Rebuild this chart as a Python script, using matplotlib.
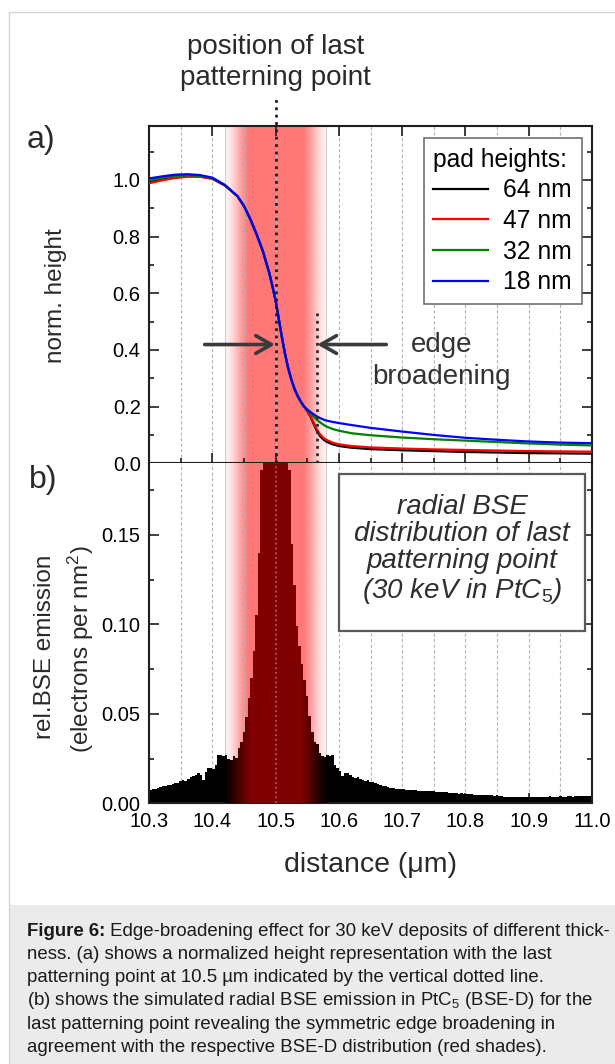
import numpy as np
import matplotlib
matplotlib.use('Agg')
import matplotlib.pyplot as plt
from matplotlib.patches import Rectangle
from matplotlib.lines import Line2D
from matplotlib.ticker import MultipleLocator, FormatStrFormatter

plt.rcParams['font.family'] = ['Liberation Sans', 'DejaVu Sans']
plt.rcParams['mathtext.fontset'] = 'custom'
plt.rcParams['mathtext.rm'] = 'Liberation Sans'
plt.rcParams['mathtext.it'] = 'Liberation Sans:italic'
plt.rcParams['mathtext.bf'] = 'Liberation Sans:bold'

# ---- (a) normalised height profiles -------------------------------------
dist = [10.30, 10.32, 10.34, 10.36, 10.38, 10.40, 10.42, 10.44, 10.45, 10.46,
        10.47, 10.48, 10.49, 10.495, 10.50, 10.505, 10.51, 10.515, 10.52, 10.525,
        10.53, 10.535, 10.54, 10.545, 10.55, 10.555, 10.56, 10.565, 10.57, 10.575,
        10.58, 10.59, 10.60, 10.62, 10.65, 10.70, 10.75, 10.80, 10.85, 10.90,
        10.95, 11.00]
h_common = [0.942, 0.908, 0.862, 0.808, 0.748, 0.672, 0.625, 0.575, 0.510,
            0.445, 0.385, 0.335, 0.295, 0.262, 0.237, 0.217, 0.200]
h64 = ([0.992, 1.002, 1.009, 1.013, 1.012, 1.004, 0.980] + h_common +
       [0.184, 0.165, 0.140, 0.115, 0.097, 0.085, 0.077, 0.067, 0.061, 0.055,
        0.050, 0.046, 0.043, 0.040, 0.038, 0.036, 0.035, 0.034])
h47 = ([0.988, 0.998, 1.006, 1.011, 1.011, 1.004, 0.980] + h_common +
       [0.185, 0.167, 0.145, 0.121, 0.103, 0.091, 0.083, 0.073, 0.067, 0.061,
        0.056, 0.052, 0.049, 0.047, 0.045, 0.043, 0.042, 0.041])
h32 = ([0.998, 1.007, 1.013, 1.016, 1.014, 1.006, 0.981] + h_common +
       [0.188, 0.176, 0.165, 0.154, 0.145, 0.137, 0.130, 0.121, 0.115, 0.106,
        0.099, 0.091, 0.085, 0.080, 0.075, 0.070, 0.066, 0.063])
h18 = ([1.005, 1.012, 1.018, 1.020, 1.017, 1.008, 0.982] + h_common +
       [0.190, 0.181, 0.173, 0.166, 0.160, 0.155, 0.151, 0.146, 0.142, 0.135,
        0.125, 0.112, 0.100, 0.090, 0.083, 0.077, 0.073, 0.071])
pad_labels = ["64 nm", "47 nm", "32 nm", "18 nm"]
pad_colors = ["black", "red", "#008000", "blue"]

# ---- (b) radial BSE emission histogram (bins of 4 nm from 10.3 um) ---------
bse_start, bse_stop = 10.3, 11.0
bse_counts = [
    0.0072, 0.0078, 0.0082, 0.0086, 0.0092, 0.0095, 0.0098, 0.0102, 0.0100, 0.0108,
    0.0115, 0.0112, 0.0125, 0.0130, 0.0122, 0.0138, 0.0145, 0.0150, 0.0158, 0.0168,
    0.0160, 0.0130, 0.0175, 0.0198, 0.0195, 0.0190, 0.0215, 0.0270, 0.0272, 0.0262,
    0.0268, 0.0248, 0.0240, 0.0262, 0.0255, 0.0310, 0.0340, 0.0400, 0.0480, 0.0590,
    0.0700, 0.0850, 0.1050, 0.1400, 0.1860, 0.2400, 0.3100, 0.3800, 0.4300, 0.4600,
    0.4500, 0.4200, 0.3700, 0.3000, 0.2300, 0.1860, 0.1450, 0.1220, 0.0990, 0.0880,
    0.0780, 0.0690, 0.0600, 0.0490, 0.0400, 0.0340, 0.0330, 0.0280, 0.0265, 0.0258,
    0.0272, 0.0262, 0.0270, 0.0212, 0.0200, 0.0180, 0.0152, 0.0172, 0.0168, 0.0160,
    0.0145, 0.0140, 0.0148, 0.0136, 0.0130, 0.0125, 0.0128, 0.0118, 0.0120, 0.0112,
    0.0108, 0.0100, 0.0098, 0.0095, 0.0090, 0.0088, 0.0085, 0.0080, 0.0078, 0.0080,
    0.0078, 0.0076, 0.0074, 0.0075, 0.0072, 0.0073, 0.0071, 0.0069, 0.0070, 0.0068,
    0.0068, 0.0066, 0.0067, 0.0064, 0.0063, 0.0064, 0.0061, 0.0062, 0.0060, 0.0057,
    0.0058, 0.0055, 0.0054, 0.0056, 0.0052, 0.0051, 0.0050, 0.0052, 0.0049, 0.0049,
    0.0047, 0.0048, 0.0046, 0.0045, 0.0047, 0.0044, 0.0043, 0.0045, 0.0042, 0.0040,
    0.0037, 0.0036, 0.0034, 0.0036, 0.0035, 0.0037, 0.0036, 0.0038, 0.0036, 0.0037,
    0.0036, 0.0038, 0.0037, 0.0035, 0.0037, 0.0038, 0.0036, 0.0037, 0.0039, 0.0038,
    0.0037, 0.0038, 0.0039, 0.0037, 0.0038, 0.0040, 0.0039, 0.0038, 0.0040, 0.0039,
    0.0040, 0.0041, 0.0039, 0.0040, 0.0041]

# patterning point and the BSE-D shaded range
last_point = 10.5
shade_lo, shade_hi = 10.42, 10.58
broad_edge = 10.565

W, H = 615, 1064
fig = plt.figure(figsize=(W / 100, H / 100), dpi=100)


def fx(px):
    return px / W


def fy(py):
    return 1 - py / H


ax1 = fig.add_axes([fx(149), fy(463.3), fx(443), 337.3 / H])
ax2 = fig.add_axes([fx(149), fy(803.3), fx(443), 340 / H])

y1_top, y2_top = 1.19, 0.19

# horizontal gradient used for the red shading
gx = np.linspace(shade_lo, shade_hi, 401)
ramp = np.clip((0.08 - np.abs(gx - last_point)) / 0.04, 0, 1)
ramp = ramp * ramp * (3 - 2 * ramp)
pink = np.zeros((1, gx.size, 4))
pink[..., 0] = 1.0
pink[..., 1] = 0.45
pink[..., 2] = 0.45
pink[..., 3] = 0.10 + 0.86 * ramp

for ax, top in [(ax1, y1_top), (ax2, y2_top)]:
    ax.imshow(pink, extent=(shade_lo, shade_hi, 0, top), aspect='auto',
              interpolation='bilinear', zorder=0)
    for xe in (shade_lo, shade_hi):
        ax.axvline(xe, color='#cfcfcf', lw=0.8, zorder=0.2)
    ax.set_xlim(bse_start, bse_stop)
    ax.set_ylim(0, top)
    ax.set_axisbelow(True)
    ax.xaxis.set_major_locator(MultipleLocator(0.1))
    ax.xaxis.set_minor_locator(MultipleLocator(0.05))
    ax.grid(True, which='both', axis='x', color='#b5b5b5', lw=0.8,
            ls=(0, (3, 2)))
    for s in ax.spines.values():
        s.set_linewidth(1.5)
        s.set_color('#1e1e1e')
    ax.tick_params(which='both', direction='in', right=True, labelsize=14.5,
                   width=1.2, color='#1e1e1e', pad=6)
    ax.tick_params(which='major', length=7)
    ax.tick_params(which='minor', length=3.5)

# ---- panel (a) -----------------------------------------------------------
for ys, lab, col in zip([h64, h47, h32, h18], pad_labels, pad_colors):
    ax1.plot(dist, ys, color=col, lw=1.6, label=lab, zorder=3)

ax1.plot([last_point, last_point], [0, 1.30], ls=':', color='#3a1414', lw=2,
         clip_on=False, zorder=4)
ax1.plot([broad_edge, broad_edge], [0, 0.54], ls=':', color='#2a2a2a', lw=2,
         zorder=4)

arrow_kw = dict(arrowstyle='->,head_length=0.7,head_width=0.4', lw=2.6,
                color='#3a3a3a', mutation_scale=16, shrinkA=0, shrinkB=0)
ax1.annotate('', xy=(last_point - 0.001, 0.419), xytext=(10.388, 0.419),
             arrowprops=arrow_kw, zorder=5)
ax1.annotate('', xy=(broad_edge + 0.001, 0.419), xytext=(10.675, 0.419),
             arrowprops=arrow_kw, zorder=5)
ax1.text(10.762, 0.419, 'edge', fontsize=20, color='#333333',
         ha='center', va='center')
ax1.text(10.762, 0.306, 'broadening', fontsize=20, color='#333333',
         ha='center', va='center')

ax1.yaxis.set_major_locator(MultipleLocator(0.2))
ax1.yaxis.set_minor_locator(MultipleLocator(0.1))
ax1.yaxis.set_major_formatter(FormatStrFormatter('%.1f'))
ax1.tick_params(top=True, labelbottom=False)

leg = ax1.legend(title='pad heights:', loc='upper right',
                 bbox_to_anchor=(0.977, 0.965), borderaxespad=0,
                 fontsize=17.7, title_fontsize=17.7, frameon=True,
                 fancybox=False, edgecolor='#707070', framealpha=1,
                 handlelength=2.24, handletextpad=0.6, borderpad=0.4,
                 labelspacing=0.27, alignment='left')
leg.get_frame().set_linewidth(1.2)
leg.set_zorder(6)

# ---- panel (b) -----------------------------------------------------------
edges = np.linspace(bse_start, bse_stop, len(bse_counts) + 1)
step = ax2.stairs(bse_counts, edges, fill=True, color='black', lw=0, zorder=2)

dark = np.zeros((1, gx.size, 4))
dark[..., 0] = 0.50 * np.clip((0.08 - np.abs(gx - last_point)) / 0.04, 0, 1)
dark[..., 3] = 1.0
im = ax2.imshow(dark, extent=(shade_lo, shade_hi, 0, y2_top), aspect='auto',
                interpolation='bilinear', zorder=3)
im.set_clip_path(step)
ax2.set_xlim(bse_start, bse_stop)
ax2.set_ylim(0, y2_top)

ax2.axvline(last_point, ls=':', color='#b85a5a', lw=1.3, zorder=4)

ax2.yaxis.set_major_locator(MultipleLocator(0.05))
ax2.yaxis.set_minor_locator(MultipleLocator(0.025))
ax2.yaxis.set_major_formatter(FormatStrFormatter('%.2f'))
ax2.xaxis.set_major_formatter(FormatStrFormatter('%.1f'))
ax2.tick_params(top=False)
ax2.spines['top'].set_visible(False)

ax2.add_patch(Rectangle((0.4296, 0.5076), 0.5544, 0.46, transform=ax2.transAxes,
                        facecolor='white', edgecolor='#5a5a5a', lw=1.6,
                        zorder=5))
ax2.text(0.707, 0.745,
         'radial BSE\ndistribution of last\npatterning point\n'
         '(30 keV in PtC$_{\\mathit{5}}$)',
         transform=ax2.transAxes, fontsize=20, style='italic',
         color='#2e2e2e', ha='center', va='center', linespacing=1.05,
         zorder=6)

# ---- labels around the axes ---------------------------------------------
fig.text(fx(275.3), fy(46.7), 'position of last', fontsize=20,
         color='#2a2a2a', ha='center', va='center')
fig.text(fx(275.3), fy(78.3), 'patterning point', fontsize=20,
         color='#2a2a2a', ha='center', va='center')
fig.text(fx(41), fy(140), 'a)', fontsize=23, color='#2a2a2a',
         ha='center', va='center')
fig.text(fx(43), fy(480), 'b)', fontsize=23, color='#2a2a2a',
         ha='center', va='center')
fig.text(fx(56), fy(296), 'norm. height', fontsize=17.5, rotation=90,
         color='#2a2a2a', ha='center', va='center')
fig.text(fx(45), fy(647), 'rel.BSE emission', fontsize=17.5, rotation=90,
         color='#2a2a2a', ha='center', va='center')
fig.text(fx(81), fy(649), '(electrons per nm$^2$)', fontsize=17.5,
         rotation=90, color='#2a2a2a', ha='center', va='center')
fig.text(fx(370.5), fy(865), 'distance (\u03bcm)', fontsize=20.5,
         color='#2a2a2a', ha='center', va='center')

# ---- page frame and caption ---------------------------------------------
fig.patches.append(Rectangle((fx(9.5), 0), 1, (H - 905) / H,
                             transform=fig.transFigure, facecolor='#ebebeb',
                             edgecolor='none', zorder=0))
fig.add_artist(Line2D([fx(8.5), fx(8.5)], [0, fy(12)], color='#d5d5d5', lw=1))
fig.add_artist(Line2D([fx(8.5), 1], [fy(12), fy(12)], color='#d5d5d5', lw=1))

cap_size = 13.4
cap_lines = [
    " Edge-broadening effect for 30 keV deposits of different thick-",
    "ness. (a) shows a normalized height representation with the last",
    "patterning point at 10.5 \u00b5m indicated by the vertical dotted line.",
    "(b) shows the simulated radial BSE emission in PtC$_5$ (BSE-D) for the",
    "last patterning point revealing the symmetric edge broadening in",
    "agreement with the respective BSE-D distribution (red shades).",
]
cap_x, cap_y0, cap_dy = 26.7, 935.5, 23.3
bold = fig.text(fx(cap_x), fy(cap_y0), 'Figure 6:', fontsize=cap_size,
                fontweight='bold', color='#1a1a1a', va='baseline')
renderer = fig.canvas.get_renderer()
bw = bold.get_window_extent(renderer).width
for i, line in enumerate(cap_lines):
    x0 = cap_x + (bw if i == 0 else 0)
    fig.text(fx(x0), fy(cap_y0 + i * cap_dy), line, fontsize=cap_size,
             color='#1a1a1a', va='baseline')

fig.savefig('out.png', dpi=100)
